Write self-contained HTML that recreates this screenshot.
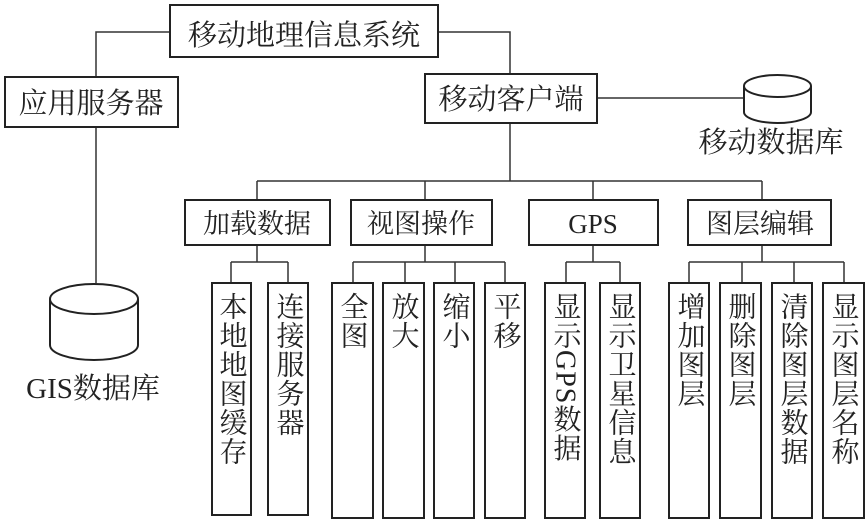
<!DOCTYPE html>
<html><head><meta charset="utf-8"><style>
html,body{margin:0;padding:0;background:#fff;}
svg{display:block;}
text{font-family:"Liberation Serif","Noto Serif CJK SC","Noto Sans CJK SC",serif;fill:#222;}
.v{writing-mode:vertical-rl;text-orientation:mixed;}
</style></head><body>
<svg width="867" height="524" viewBox="0 0 867 524" xmlns="http://www.w3.org/2000/svg">
<g fill="none" stroke="#333" stroke-width="1.5">
<path d="M170 32H96V77M438 32H510V74M96 127V283M510 123V181M257 181H762M257 181V200M425 181V200M593 181V200M762 181V200M597 98H744"/>
<path d="M257 245V262M231 262H288M231 262V283M288 262V283"/>
<path d="M425 245V262M353 262H505M353 262V283M405 262V283M455 262V283M505 262V283"/>
<path d="M593 245V262M566 262H620M566 262V283M620 262V283"/>
<path d="M762 245V262M689 262H844M689 262V283M742 262V283M794 262V283M844 262V283"/>
</g>
<g fill="#fff" stroke="#222" stroke-width="2">
<rect x="170" y="5" width="268" height="52"/>
<rect x="5" y="77" width="173" height="50"/>
<rect x="425" y="74" width="172" height="49"/>
<rect x="185" y="200" width="145" height="45"/>
<rect x="351" y="200" width="141" height="45"/>
<rect x="529" y="200" width="129" height="45"/>
<rect x="688" y="200" width="143" height="45"/>
<rect x="212" y="283" width="39" height="232"/>
<rect x="268" y="283" width="40" height="232"/>
<rect x="332" y="283" width="41" height="235"/>
<rect x="383" y="283" width="41" height="235"/>
<rect x="434" y="283" width="40" height="235"/>
<rect x="485" y="283" width="40" height="235"/>
<rect x="545" y="283" width="40" height="235"/>
<rect x="600" y="283" width="40" height="235"/>
<rect x="669" y="283" width="40" height="235"/>
<rect x="720" y="283" width="41" height="235"/>
<rect x="772" y="283" width="40" height="235"/>
<rect x="823" y="283" width="41" height="235"/>
</g>
<g fill="#fff" stroke="#222" stroke-width="2">
<path d="M50 299V345A44 15 0 0 0 138 345V299"/>
<ellipse cx="94" cy="299" rx="44" ry="15"/>
<path d="M744 86V112A33.5 11 0 0 0 811 112V86"/>
<ellipse cx="777.5" cy="86" rx="33.5" ry="11"/>
</g>
<g font-size="29" text-anchor="middle">
<text x="304" y="45">移动地理信息系统</text>
<text x="91" y="113">应用服务器</text>
<text x="511" y="109">移动客户端</text>
<text x="771" y="152">移动数据库</text>
<text x="93" y="398">GIS数据库</text>
</g>
<g font-size="27" text-anchor="middle">
<text x="257" y="233">加载数据</text>
<text x="421" y="233">视图操作</text>
<text x="593" y="233">GPS</text>
<text x="760" y="233">图层编辑</text>
</g>
<g font-size="28" letter-spacing="1">
<text class="v" x="231" y="292">本地地图缓存</text>
<text class="v" x="288" y="292">连接服务器</text>
<text class="v" x="352" y="292">全图</text>
<text class="v" x="403" y="292">放大</text>
<text class="v" x="454" y="292">缩小</text>
<text class="v" x="505" y="292">平移</text>
<text class="v" x="565" y="292">显示GPS数据</text>
<text class="v" x="620" y="292">显示卫星信息</text>
<text class="v" x="689" y="292">增加图层</text>
<text class="v" x="740" y="292">删除图层</text>
<text class="v" x="792" y="292">清除图层数据</text>
<text class="v" x="843" y="292">显示图层名称</text>
</g>
</svg>
</body></html>
